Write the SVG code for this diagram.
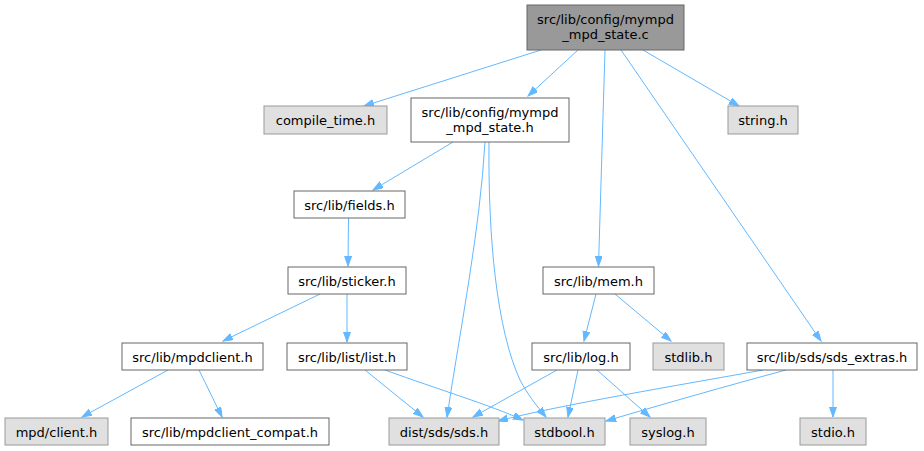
<svg xmlns="http://www.w3.org/2000/svg" width="924" height="451" viewBox="0 0 924 451">
<defs>
<marker id="ah" markerWidth="11" markerHeight="8" refX="10" refY="3.5" orient="auto" markerUnits="userSpaceOnUse">
<path d="M0,0 L10,3.5 L0,7 z" fill="#63b8ff" stroke="#63b8ff" stroke-width="1"/>
</marker>
</defs>
<style>
.n rect{stroke-width:1}
.w rect{fill:#ffffff;stroke:#666666}
.g rect{fill:#e0e0e0;stroke:#999999}
.r rect{fill:#999999;stroke:#666666}
text{font-family:"DejaVu Sans","Liberation Sans",sans-serif;font-size:13px;fill:#000000;text-anchor:middle}
.e path{fill:none;stroke:#63b8ff;stroke-width:1;marker-end:url(#ah)}
</style>
<rect width="924" height="451" fill="#ffffff"/>
<g id="edges" class="e">
<path d="M541,50 L364,106"/>
<path d="M578,50 L528,96"/>
<path d="M605,50 L598.5,266"/>
<path d="M621,50 L821,341"/>
<path d="M643,50 L739,106"/>
<path d="M453,142 L373,190"/>
<path d="M485,142 C480,230 460,330 447,417"/>
<path d="M489,142 C488,240 497,330 520,380 C528,395 536,405 546,417"/>
<path d="M348.5,218 L348,266"/>
<path d="M320,294 L223,341"/>
<path d="M347,294 L347,342"/>
<path d="M168,370 L82,417"/>
<path d="M199,370 L222,417"/>
<path d="M365,370 L423,417"/>
<path d="M385,370 C440,390 490,405 523,420"/>
<path d="M557,370 L473,417"/>
<path d="M578,370 L568,417"/>
<path d="M597,370 L650,417"/>
<path d="M596,294 L584,341"/>
<path d="M615,294 L671,341"/>
<path d="M763,370 C680,385 560,405 498,421"/>
<path d="M786,370 C730,385 660,405 606,421"/>
<path d="M833,370 L833,417"/>
</g>
<g id="root" class="n r"><rect x="527" y="5" width="157" height="45"/><text x="605.5" y="23.5">src/lib/config/mympd</text><text x="605.5" y="39">_mpd_state.c</text></g>
<g id="compile_time" class="n g"><rect x="264" y="106" width="123" height="28"/><text x="325.5" y="124.5">compile_time.h</text></g>
<g id="mympd_state_h" class="n w"><rect x="411" y="98" width="158" height="44"/><text x="490" y="116.5">src/lib/config/mympd</text><text x="490" y="132">_mpd_state.h</text></g>
<g id="string_h" class="n g"><rect x="728" y="106" width="70" height="28"/><text x="763" y="124.5">string.h</text></g>
<g id="fields" class="n w"><rect x="294" y="191" width="111" height="27"/><text x="349.5" y="209.5">src/lib/fields.h</text></g>
<g id="sticker" class="n w"><rect x="288" y="267" width="118" height="27"/><text x="347" y="285.5">src/lib/sticker.h</text></g>
<g id="mem" class="n w"><rect x="543" y="267" width="111" height="27"/><text x="598.5" y="285.5">src/lib/mem.h</text></g>
<g id="mpdclient" class="n w"><rect x="122" y="343" width="141" height="27"/><text x="192.5" y="361.5">src/lib/mpdclient.h</text></g>
<g id="list" class="n w"><rect x="287" y="343" width="120" height="27"/><text x="347" y="361.5">src/lib/list/list.h</text></g>
<g id="log" class="n w"><rect x="532" y="343" width="98" height="27"/><text x="581" y="361.5">src/lib/log.h</text></g>
<g id="stdlib" class="n g"><rect x="653" y="343" width="71" height="27"/><text x="688.5" y="361.5">stdlib.h</text></g>
<g id="sds_extras" class="n w"><rect x="747" y="343" width="170" height="27"/><text x="832" y="361.5">src/lib/sds/sds_extras.h</text></g>
<g id="mpd_client" class="n g"><rect x="5" y="418" width="103" height="27"/><text x="56.5" y="436.5">mpd/client.h</text></g>
<g id="mpdclient_compat" class="n w"><rect x="131" y="418" width="198" height="27"/><text x="230" y="436.5">src/lib/mpdclient_compat.h</text></g>
<g id="sds" class="n g"><rect x="389" y="418" width="110" height="27"/><text x="444" y="436.5">dist/sds/sds.h</text></g>
<g id="stdbool" class="n g"><rect x="524" y="418" width="81" height="27"/><text x="564.5" y="436.5">stdbool.h</text></g>
<g id="syslog" class="n g"><rect x="630" y="418" width="76" height="27"/><text x="668" y="436.5">syslog.h</text></g>
<g id="stdio" class="n g"><rect x="800" y="418" width="66" height="27"/><text x="833" y="436.5">stdio.h</text></g>
</svg>
